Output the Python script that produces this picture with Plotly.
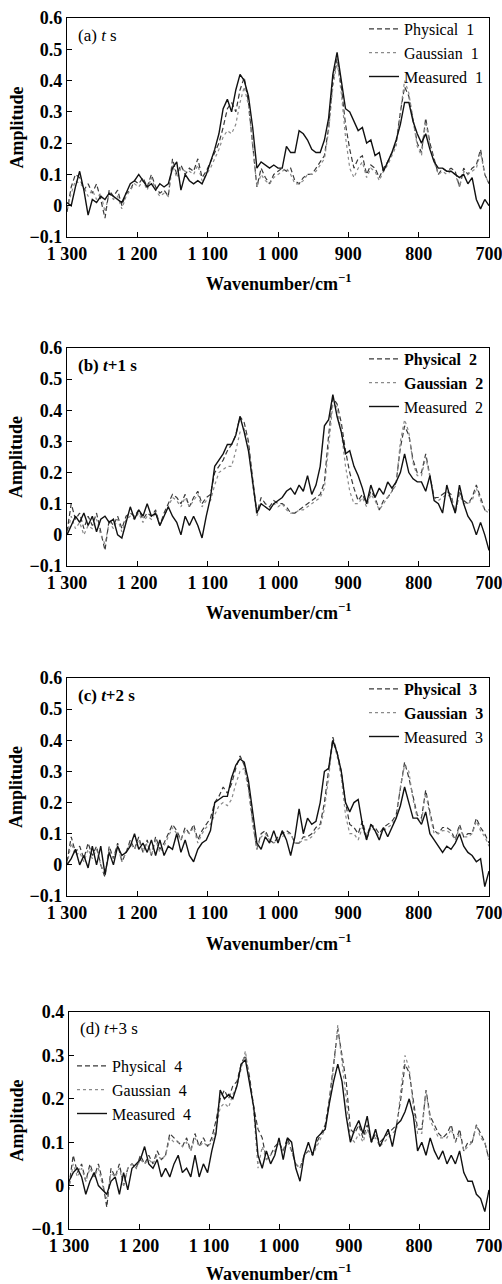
import plotly.graph_objects as go

wavenumber = [1300 - 6 * i for i in range(101)]

meas_a = [0.01,0.0,0.06,0.11,0.05,-0.03,0.02,0.01,0.03,0.02,
          0.04,0.03,0.02,0.01,0.04,0.07,0.08,0.1,0.08,0.06,
          0.07,0.05,0.07,0.06,0.07,0.12,0.14,0.05,0.1,0.08,
          0.07,0.08,0.07,0.1,0.14,0.18,0.23,0.31,0.34,0.3,
          0.37,0.42,0.4,0.35,0.25,0.12,0.14,0.13,0.12,0.13,
          0.12,0.12,0.19,0.17,0.17,0.24,0.23,0.21,0.18,0.17,
          0.17,0.21,0.28,0.42,0.49,0.4,0.31,0.3,0.27,0.24,
          0.25,0.2,0.21,0.16,0.17,0.11,0.14,0.17,0.21,0.26,
          0.33,0.33,0.27,0.23,0.2,0.23,0.18,0.14,0.12,0.12,
          0.11,0.11,0.1,0.09,0.1,0.07,0.09,0.02,-0.01,0.02,
          0.0]
phys_a = [-0.02,0.06,0.1,0.09,0.05,0.07,0.04,0.07,0.02,-0.04,
          0.05,0.03,0.05,0.0,0.04,0.05,0.08,0.07,0.09,0.06,
          0.1,0.06,0.04,0.05,0.03,0.15,0.1,0.13,0.1,0.12,
          0.11,0.15,0.09,0.11,0.14,0.17,0.2,0.25,0.31,0.33,
          0.3,0.37,0.41,0.33,0.2,0.06,0.12,0.09,0.07,0.1,
          0.11,0.12,0.11,0.12,0.08,0.07,0.09,0.1,0.1,0.12,
          0.14,0.16,0.25,0.4,0.47,0.38,0.26,0.18,0.12,0.15,
          0.16,0.1,0.13,0.12,0.09,0.12,0.14,0.17,0.2,0.3,
          0.38,0.35,0.28,0.2,0.17,0.28,0.2,0.15,0.1,0.12,
          0.11,0.12,0.11,0.06,0.12,0.1,0.12,0.13,0.18,0.1,
          0.07]
gaus_a = [-0.01,0.04,0.08,0.07,0.06,0.03,0.05,0.02,0.04,-0.02,
          0.04,0.02,0.03,-0.01,0.03,0.05,0.07,0.06,0.08,0.05,
          0.09,0.05,0.03,0.04,0.03,0.13,0.09,0.12,0.11,0.11,
          0.1,0.13,0.08,0.1,0.12,0.15,0.18,0.22,0.24,0.23,
          0.26,0.33,0.38,0.32,0.18,0.06,0.1,0.08,0.07,0.09,
          0.1,0.11,0.12,0.1,0.07,0.07,0.08,0.1,0.1,0.11,
          0.13,0.15,0.24,0.38,0.46,0.36,0.22,0.12,0.09,0.12,
          0.14,0.09,0.12,0.11,0.08,0.11,0.13,0.16,0.19,0.3,
          0.4,0.36,0.27,0.19,0.16,0.27,0.19,0.14,0.1,0.11,
          0.1,0.11,0.1,0.06,0.11,0.1,0.11,0.12,0.17,0.1,
          0.07]

meas_b = [0.0,0.03,0.06,0.04,0.07,0.03,0.06,0.01,0.05,0.06,
          0.04,0.05,0.0,-0.01,0.04,0.09,0.05,0.08,0.06,0.1,
          0.06,0.07,0.03,0.06,0.09,0.06,0.04,0.0,0.06,0.03,
          0.06,0.03,-0.01,0.06,0.12,0.22,0.24,0.26,0.29,0.29,
          0.32,0.38,0.33,0.27,0.17,0.07,0.1,0.09,0.08,0.1,
          0.11,0.12,0.14,0.15,0.13,0.16,0.14,0.19,0.13,0.16,
          0.22,0.35,0.37,0.45,0.38,0.33,0.26,0.27,0.22,0.19,
          0.15,0.1,0.16,0.12,0.15,0.13,0.17,0.15,0.17,0.2,
          0.26,0.2,0.18,0.17,0.17,0.14,0.19,0.11,0.1,0.07,
          0.16,0.11,0.07,0.16,0.1,0.06,0.04,0.0,0.04,0.0,
          -0.05]
phys_b = [0.01,0.1,0.05,0.07,0.02,0.06,0.03,0.07,0.01,-0.05,
          0.05,0.03,0.06,0.02,0.06,0.07,0.06,0.08,0.05,0.07,
          0.06,0.08,0.03,0.07,0.1,0.13,0.12,0.1,0.13,0.09,
          0.12,0.14,0.1,0.12,0.13,0.2,0.22,0.24,0.27,0.29,
          0.32,0.38,0.36,0.3,0.18,0.07,0.12,0.1,0.09,0.11,
          0.1,0.1,0.09,0.07,0.07,0.08,0.09,0.1,0.11,0.12,
          0.13,0.17,0.32,0.44,0.42,0.36,0.27,0.2,0.15,0.11,
          0.13,0.1,0.14,0.12,0.08,0.11,0.12,0.14,0.17,0.28,
          0.35,0.32,0.24,0.2,0.2,0.26,0.19,0.12,0.12,0.13,
          0.14,0.13,0.07,0.14,0.11,0.1,0.12,0.16,0.12,0.08,
          0.08]
gaus_b = [0.0,0.06,0.02,0.04,0.0,0.03,0.02,0.05,0.0,-0.03,
          0.04,0.02,0.05,0.01,0.05,0.06,0.05,0.07,0.04,0.06,
          0.05,0.07,0.03,0.06,0.09,0.12,0.11,0.09,0.12,0.09,
          0.11,0.13,0.09,0.11,0.11,0.16,0.2,0.21,0.22,0.22,
          0.27,0.33,0.34,0.29,0.16,0.06,0.1,0.09,0.08,0.1,
          0.09,0.1,0.08,0.07,0.07,0.08,0.08,0.09,0.1,0.11,
          0.12,0.15,0.28,0.42,0.41,0.33,0.22,0.14,0.1,0.1,
          0.12,0.09,0.13,0.11,0.08,0.1,0.12,0.14,0.16,0.3,
          0.37,0.33,0.23,0.19,0.19,0.25,0.18,0.12,0.11,0.12,
          0.13,0.12,0.07,0.13,0.1,0.1,0.11,0.15,0.11,0.08,
          0.07]

meas_c = [0.0,0.02,0.05,0.0,0.03,-0.01,0.06,0.0,0.06,-0.03,
          0.04,0.0,0.06,0.03,0.04,0.06,0.1,0.05,0.07,0.04,
          0.08,0.03,0.08,0.03,0.06,0.05,0.1,0.04,0.08,0.03,
          0.01,0.05,0.07,0.08,0.11,0.2,0.21,0.22,0.22,0.28,
          0.32,0.34,0.33,0.27,0.17,0.07,0.05,0.09,0.07,0.11,
          0.07,0.11,0.08,0.03,0.09,0.18,0.1,0.15,0.13,0.14,
          0.2,0.3,0.31,0.4,0.36,0.3,0.2,0.17,0.2,0.21,
          0.13,0.08,0.13,0.11,0.08,0.12,0.09,0.12,0.15,0.19,
          0.25,0.2,0.15,0.15,0.13,0.17,0.1,0.08,0.06,0.04,
          0.06,0.05,0.07,0.1,0.06,0.04,0.03,0.01,0.02,-0.07,
          -0.02]
phys_c = [0.01,0.09,0.04,0.06,0.02,0.07,0.03,0.06,0.0,-0.04,
          0.06,0.02,0.07,0.01,0.04,0.08,0.05,0.09,0.04,0.08,
          0.03,0.09,0.05,0.07,0.1,0.13,0.11,0.08,0.12,0.1,
          0.13,0.08,0.11,0.13,0.15,0.2,0.22,0.25,0.23,0.26,
          0.31,0.35,0.32,0.25,0.14,0.05,0.1,0.11,0.08,0.07,
          0.09,0.1,0.11,0.1,0.07,0.07,0.09,0.09,0.1,0.12,
          0.13,0.2,0.3,0.41,0.36,0.3,0.2,0.13,0.12,0.1,
          0.14,0.09,0.13,0.12,0.1,0.12,0.13,0.14,0.16,0.24,
          0.33,0.28,0.22,0.16,0.15,0.24,0.17,0.11,0.1,0.12,
          0.12,0.11,0.08,0.13,0.09,0.1,0.1,0.15,0.12,0.1,
          0.07]
gaus_c = [0.0,0.07,0.03,0.04,0.01,0.05,0.02,0.05,0.0,-0.03,
          0.05,0.02,0.06,0.01,0.04,0.07,0.05,0.08,0.04,0.07,
          0.03,0.08,0.04,0.06,0.09,0.12,0.1,0.08,0.11,0.1,
          0.12,0.07,0.1,0.12,0.13,0.16,0.19,0.2,0.19,0.21,
          0.26,0.3,0.31,0.24,0.13,0.05,0.09,0.1,0.08,0.07,
          0.08,0.09,0.1,0.1,0.07,0.07,0.08,0.08,0.09,0.11,
          0.12,0.18,0.28,0.4,0.35,0.28,0.16,0.1,0.1,0.08,
          0.12,0.08,0.12,0.11,0.09,0.11,0.12,0.13,0.15,0.25,
          0.32,0.3,0.21,0.15,0.14,0.23,0.16,0.1,0.1,0.11,
          0.11,0.1,0.08,0.12,0.09,0.09,0.1,0.14,0.11,0.09,
          0.06]

meas_d = [0.01,0.03,0.04,0.02,-0.02,0.01,0.03,0.0,-0.01,-0.02,
          0.01,0.02,-0.02,0.03,-0.01,0.04,0.05,0.06,0.09,0.05,
          0.04,0.06,0.02,0.04,0.02,0.05,0.07,0.03,0.04,0.02,
          0.07,0.02,0.05,0.03,0.08,0.12,0.22,0.2,0.21,0.2,
          0.23,0.28,0.29,0.23,0.18,0.07,0.04,0.08,0.05,0.07,
          0.11,0.06,0.11,0.1,0.04,0.01,0.07,0.1,0.07,0.11,
          0.12,0.13,0.19,0.24,0.28,0.24,0.16,0.1,0.13,0.15,
          0.12,0.16,0.1,0.13,0.09,0.11,0.13,0.09,0.14,0.15,
          0.17,0.2,0.16,0.08,0.1,0.07,0.11,0.08,0.06,0.08,
          0.05,0.07,0.05,0.08,0.03,0.01,0.01,-0.02,-0.03,-0.06,
          -0.01]
phys_d = [0.0,0.07,0.03,0.05,0.01,0.05,0.02,0.05,0.01,-0.05,
          0.04,0.02,0.05,0.0,0.04,0.05,0.04,0.07,0.05,0.07,
          0.05,0.08,0.06,0.07,0.12,0.11,0.1,0.09,0.11,0.08,
          0.12,0.09,0.11,0.09,0.11,0.15,0.2,0.22,0.2,0.23,
          0.24,0.28,0.3,0.25,0.18,0.13,0.11,0.06,0.07,0.09,
          0.1,0.08,0.11,0.08,0.05,0.04,0.07,0.08,0.07,0.1,
          0.12,0.14,0.2,0.28,0.36,0.3,0.24,0.13,0.12,0.14,
          0.11,0.14,0.1,0.12,0.1,0.11,0.12,0.13,0.14,0.2,
          0.28,0.26,0.2,0.13,0.13,0.22,0.16,0.14,0.12,0.11,
          0.12,0.14,0.1,0.13,0.08,0.1,0.1,0.14,0.12,0.1,
          0.06]
gaus_d = [-0.01,0.05,0.02,0.04,0.01,0.04,0.02,0.04,0.0,-0.03,
          0.03,0.02,0.04,0.0,0.04,0.05,0.04,0.06,0.05,0.06,
          0.05,0.07,0.06,0.07,0.11,0.1,0.1,0.09,0.1,0.08,
          0.11,0.09,0.1,0.09,0.1,0.13,0.18,0.19,0.18,0.21,
          0.23,0.27,0.31,0.24,0.17,0.04,0.09,0.06,0.07,0.08,
          0.1,0.08,0.1,0.08,0.05,0.04,0.07,0.08,0.07,0.09,
          0.11,0.13,0.19,0.27,0.37,0.29,0.2,0.11,0.1,0.12,
          0.1,0.13,0.1,0.11,0.09,0.1,0.11,0.12,0.13,0.22,
          0.3,0.27,0.18,0.12,0.12,0.22,0.15,0.13,0.11,0.11,
          0.11,0.13,0.1,0.12,0.08,0.09,0.1,0.14,0.11,0.1,
          0.06]

x_ticks = [1300, 1200, 1100, 1000, 900, 800, 700]
x_tick_labels = ["1 300", "1 200", "1 100", "1 000", "900", "800", "700"]
y_ticks_abc = [-0.1, 0, 0.1, 0.2, 0.3, 0.4, 0.5, 0.6]
y_labels_abc = ["\u22120.1", "0", "0.1", "0.2", "0.3", "0.4", "0.5", "0.6"]
y_ticks_d = [-0.1, 0, 0.1, 0.2, 0.3, 0.4]
y_labels_d = ["\u22120.1", "0", "0.1", "0.2", "0.3", "0.4"]

panels = [
    dict(meas=meas_a, phys=phys_a, gaus=gaus_a, n="1", label="(a) <i>t</i> s",
         bold=False, yr=[-0.1, 0.6], yt=y_ticks_abc, yl=y_labels_abc,
         ytop=18, ybot=237, xl=67, lab_dy=17, xt_dy=46),
    dict(meas=meas_b, phys=phys_b, gaus=gaus_b, n="2", label="<b>(b) <i>t</i>+1 s</b>",
         bold=True, yr=[-0.1, 0.6], yt=y_ticks_abc, yl=y_labels_abc,
         ytop=348, ybot=566, xl=67, lab_dy=18, xt_dy=46),
    dict(meas=meas_c, phys=phys_c, gaus=gaus_c, n="3", label="<b>(c) <i>t</i>+2 s</b>",
         bold=True, yr=[-0.1, 0.6], yt=y_ticks_abc, yl=y_labels_abc,
         ytop=678, ybot=896, xl=67, lab_dy=17, xt_dy=46),
    dict(meas=meas_d, phys=phys_d, gaus=gaus_d, n="4", label="(d) <i>t</i>+3 s",
         bold=False, yr=[-0.1, 0.4], yt=y_ticks_d, yl=y_labels_d,
         ytop=1012, ybot=1229, xl=69, lab_dy=16, xt_dy=43),
]

W, H = 502, 1284
FONT = "Liberation Serif"
fig = go.Figure()
layout = dict(width=W, height=H, margin=dict(l=0, r=0, t=0, b=0, autoexpand=False),
              paper_bgcolor="white", plot_bgcolor="white", showlegend=True,
              font=dict(family=FONT, color="black"))
annotations = []

for k, p in enumerate(panels):
    idx = "" if k == 0 else str(k + 1)
    xa, ya = "x" + idx, "y" + idx
    leg = "legend" + idx
    pb = "<b>%s</b>" if p["bold"] else "%s"
    fig.add_trace(go.Scatter(x=wavenumber, y=p["phys"], mode="lines", xaxis=xa, yaxis=ya,
                             name=pb % ("Physical  " + p["n"]), legend=leg,
                             line=dict(color="#3a3a3a", width=1.2, dash="5px,3px")))
    fig.add_trace(go.Scatter(x=wavenumber, y=p["gaus"], mode="lines", xaxis=xa, yaxis=ya,
                             name=pb % ("Gaussian  " + p["n"]), legend=leg,
                             line=dict(color="#8a8a8a", width=1.2, dash="dot")))
    fig.add_trace(go.Scatter(x=wavenumber, y=p["meas"], mode="lines", xaxis=xa, yaxis=ya,
                             name="Measured  " + p["n"], legend=leg,
                             line=dict(color="#111111", width=1.4)))
    xd = [p["xl"] / W, 489 / W]
    yd = [1 - p["ybot"] / H, 1 - p["ytop"] / H]
    common = dict(showline=True, linecolor="black", linewidth=1.2, mirror=True,
                  ticks="inside", ticklen=5, tickcolor="black", showgrid=False,
                  zeroline=False, automargin=False, ticklabeloverflow="allow",
                  tickfont=dict(family=FONT, size=18, color="black"))
    layout["xaxis" + idx] = dict(domain=xd, range=[1300, 700], anchor=ya,
                                 tickvals=x_ticks, ticktext=["<b>%s</b>" % t for t in x_tick_labels],
                                 **common)
    layout["yaxis" + idx] = dict(domain=yd, range=p["yr"], anchor=xa,
                                 tickvals=p["yt"], ticktext=["<b>%s</b>" % t for t in p["yl"]],
                                 **common)
    # legend
    if k < 3:
        layout[leg] = dict(x=489 / W, xanchor="right", y=1 - (p["ytop"] - 6) / H, yanchor="top",
                           bgcolor="rgba(0,0,0,0)", borderwidth=0, itemwidth=30,
                           tracegroupgap=0, font=dict(family=FONT, size=16, color="black"))
    else:
        layout[leg] = dict(x=72 / W, xanchor="left", y=1 - 1049 / H, yanchor="top",
                           bgcolor="rgba(0,0,0,0)", borderwidth=0, itemwidth=30,
                           tracegroupgap=0, font=dict(family=FONT, size=16, color="black"))
    # panel label
    annotations.append(dict(text=p["label"], xref="paper", yref="paper",
                            x=(p["xl"] + 9) / W, y=1 - (p["ytop"] + p["lab_dy"]) / H,
                            xanchor="left", yanchor="middle", showarrow=False,
                            font=dict(family=FONT, size=17, color="black")))
    # y title
    annotations.append(dict(text="<b>Amplitude</b>", xref="paper", yref="paper",
                            x=16 / W, y=1 - ((p["ytop"] + p["ybot"]) / 2) / H,
                            xanchor="center", yanchor="middle", textangle=-90, showarrow=False,
                            font=dict(family=FONT, size=18, color="black")))
    # x title
    annotations.append(dict(text="<b>Wavenumber/cm<sup>\u22121</sup></b>", xref="paper", yref="paper",
                            x=278 / W, y=1 - (p["ybot"] + p["xt_dy"]) / H,
                            xanchor="center", yanchor="middle", showarrow=False,
                            font=dict(family=FONT, size=18, color="black")))

layout["annotations"] = annotations
fig.update_layout(**layout)
fig.write_html("out.html", config={"displayModeBar": False},
               post_script="document.body.style.margin='0';document.body.style.overflow='hidden';")
